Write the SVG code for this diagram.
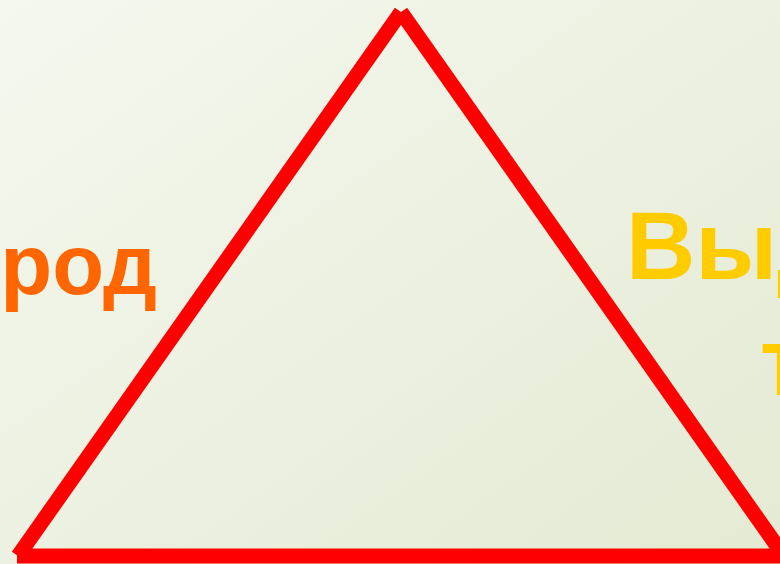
<svg xmlns="http://www.w3.org/2000/svg" width="780" height="564" viewBox="0 0 780 564">
  <defs>
    <linearGradient id="bg" x1="0" y1="0" x2="1" y2="1">
      <stop offset="0" stop-color="#F5F8EF"/>
      <stop offset="1" stop-color="#E4EAD3"/>
    </linearGradient>
    <style>
      .edge { stroke: #FF0000; stroke-width: 15; stroke-linecap: butt; fill: none; }
      .lbl { font-family: "Liberation Sans", Arial, sans-serif; font-weight: bold; }
    </style>
  </defs>
  <rect width="780" height="564" fill="url(#bg)"/>
  <g id="connectors">
    <line class="edge" x1="401" y1="12" x2="18" y2="556"/>
    <line class="edge" x1="401" y1="12" x2="784" y2="556"/>
    <line class="edge" x1="17" y1="556" x2="790" y2="556"/>
  </g>
  <g id="left-label">
    <text class="lbl" x="157" y="294" font-size="85" fill="#FF6600" text-anchor="end">род</text>
  </g>
  <g id="right-label">
    <text class="lbl" x="626" y="279" font-size="96" fill="#FFCC00">Выд</text>
    <text class="lbl" x="760" y="395" font-size="96" fill="#FFCC00">т</text>
  </g>
</svg>
